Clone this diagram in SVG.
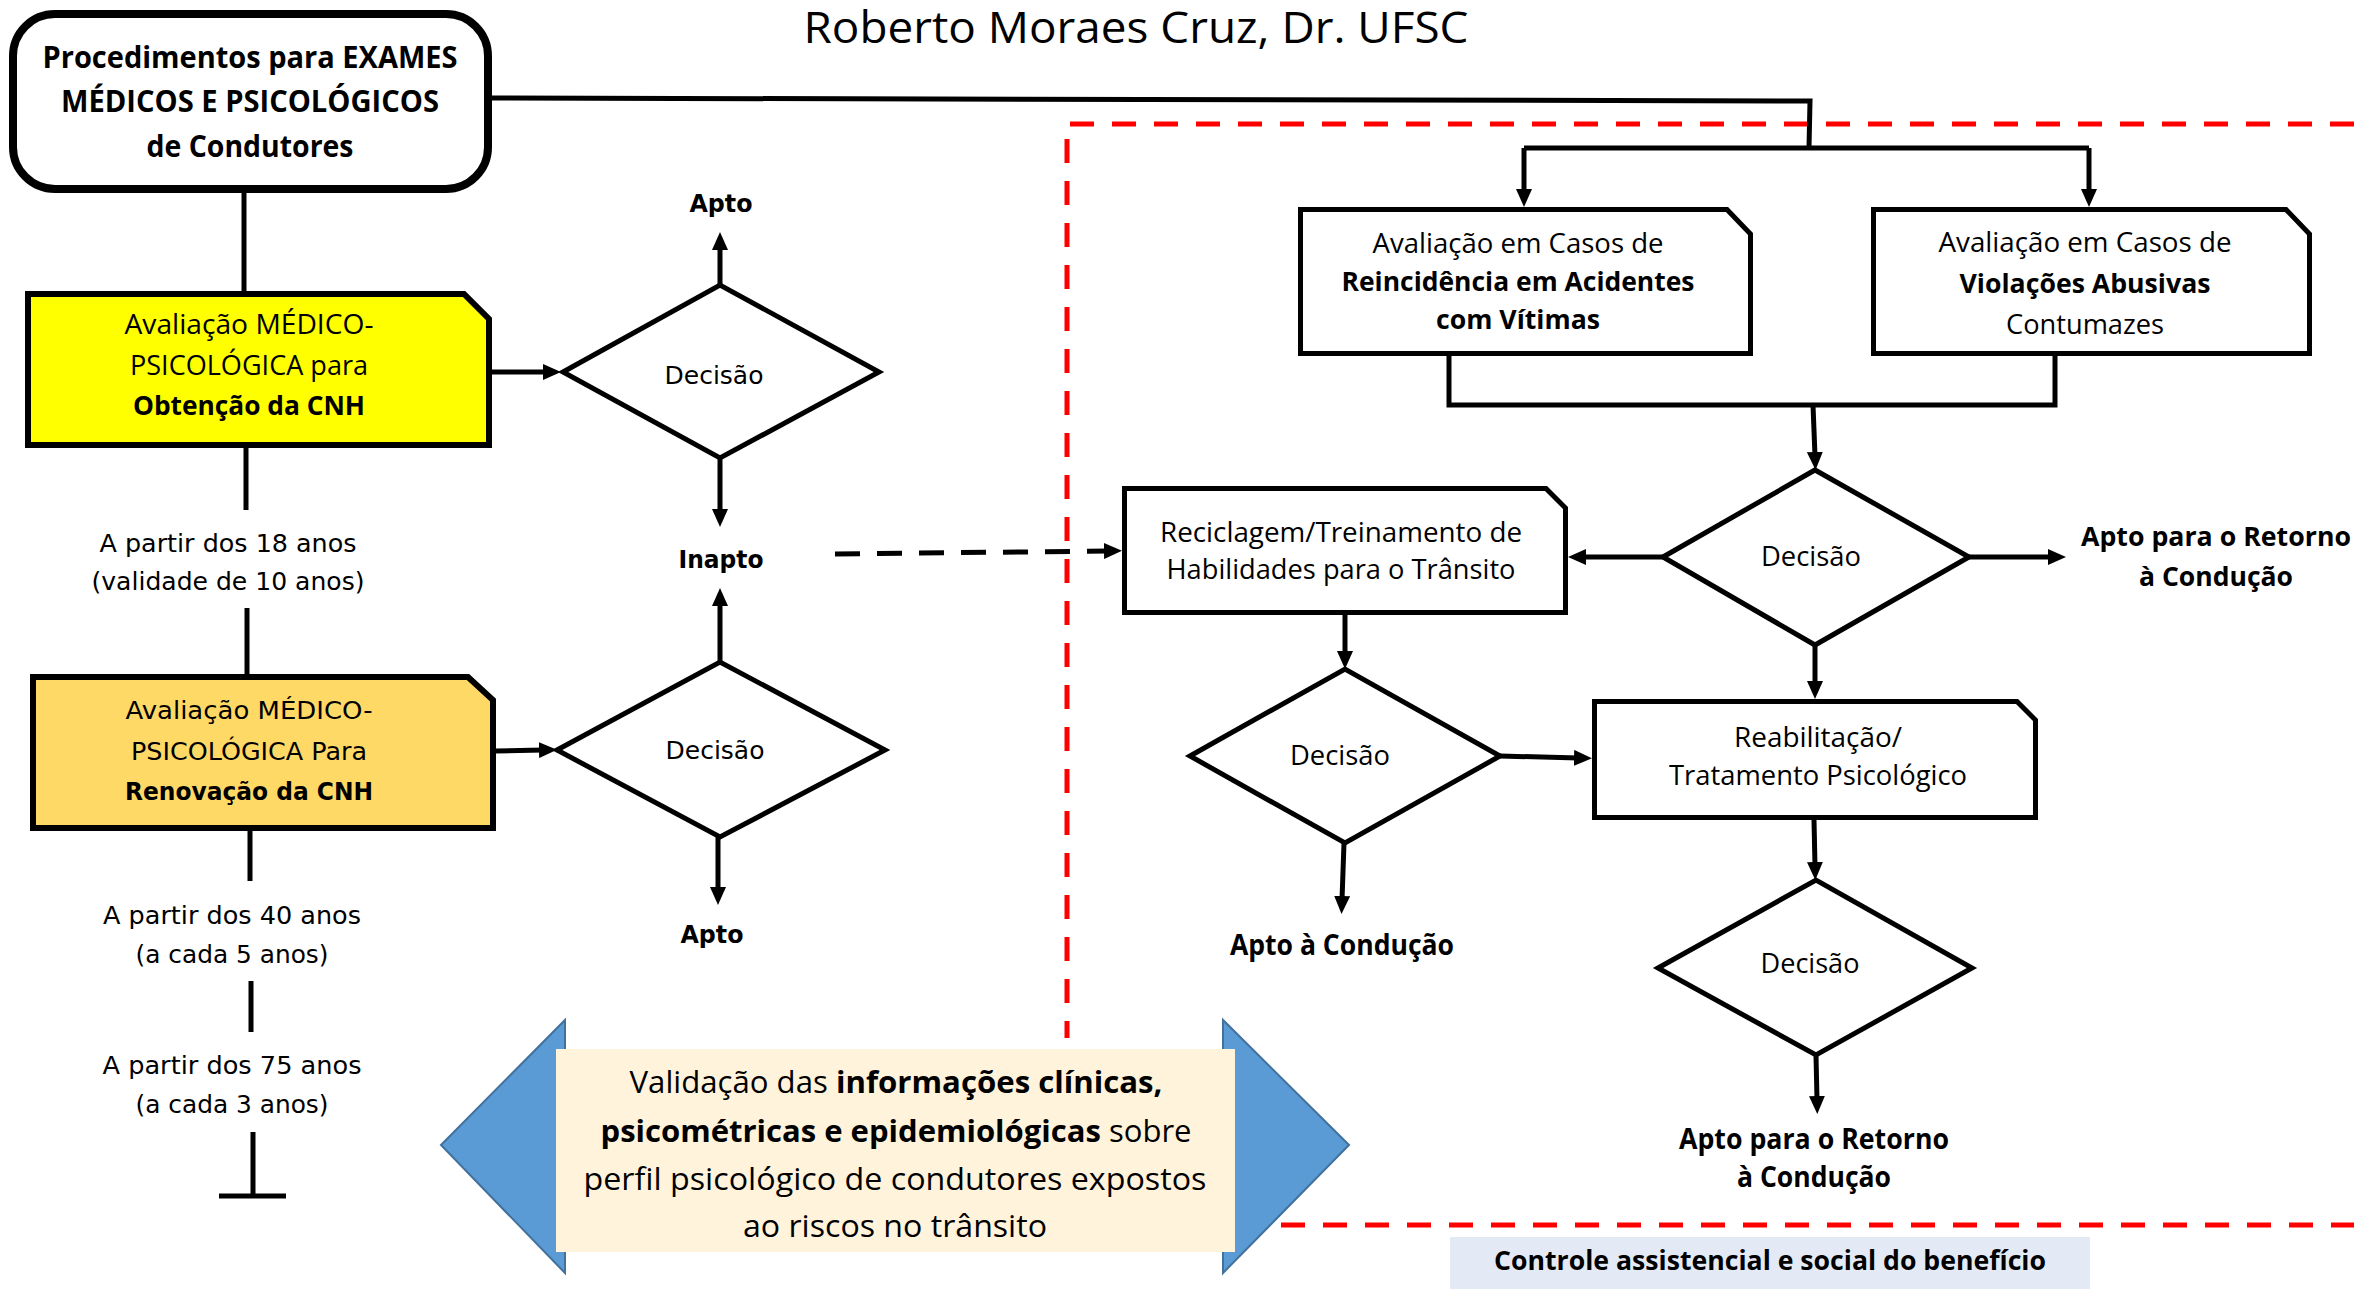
<svg xmlns="http://www.w3.org/2000/svg" width="2354" height="1289" viewBox="0 0 2354 1289">
<style>
.box{fill:#fff;stroke:#000;stroke-width:5;stroke-linejoin:miter}
.dia{fill:#fff;stroke:#000;stroke-width:5;stroke-linejoin:miter}
.ln{fill:none;stroke:#000;stroke-width:5}
.ar{fill:none;stroke:#000;stroke-width:5;marker-end:url(#ah)}
.red{fill:none;stroke:#f00;stroke-width:5;stroke-dasharray:24 18}
.tri{fill:#5b9bd5;stroke:#41719c;stroke-width:2}
.os{font-family:"Open Sans","Liberation Sans",sans-serif;fill:#000;text-anchor:middle}
.dv{font-family:"DejaVu Sans","Liberation Sans",sans-serif;fill:#000;text-anchor:middle}
.b{font-weight:bold}
</style>
<defs>
<marker id="ah" markerUnits="userSpaceOnUse" viewBox="0 0 18 16" markerWidth="18" markerHeight="16" refX="4" refY="8" orient="auto">
<path d="M0,0 L18,8 L0,16 Z" fill="#000"/>
</marker>
</defs>

<g id="title"><text class="os" x="1136" y="43" font-size="44" textLength="665" lengthAdjust="spacingAndGlyphs">Roberto Moraes Cruz, Dr. UFSC</text></g>

<g id="regions">
<polyline class="red" points="2354,124 1067,124 1067,1038"/>
<line class="red" x1="1281" y1="1225" x2="2354" y2="1225"/>
</g>

<g id="connectors">
<line class="ln" x1="244" y1="193" x2="244" y2="291"/>
<line class="ln" x1="246" y1="448" x2="246" y2="510"/>
<line class="ln" x1="247" y1="608" x2="247" y2="674"/>
<line class="ln" x1="250" y1="831" x2="250" y2="881"/>
<line class="ln" x1="251" y1="981" x2="251" y2="1032"/>
<line class="ln" x1="253" y1="1132" x2="253" y2="1196"/>
<line class="ln" x1="219" y1="1196" x2="286" y2="1196"/>
<line class="ar" x1="492" y1="372" x2="547" y2="372"/>
<line class="ar" x1="720" y1="285" x2="720" y2="246"/>
<line class="ar" x1="720" y1="458" x2="720" y2="513"/>
<line class="ar" x1="720" y1="662" x2="720" y2="602"/>
<line class="ar" x1="718" y1="837" x2="718" y2="891"/>
<line class="ar" x1="496" y1="751" x2="543" y2="750"/>
<line class="ar" x1="835" y1="554" x2="1108" y2="551" stroke-dasharray="25 17"/>
<polyline class="ln" points="488,98 1810,101 1809,148"/>
<line class="ln" x1="1524" y1="148" x2="2089" y2="148"/>
<line class="ar" x1="1524" y1="148" x2="1524" y2="193"/>
<line class="ar" x1="2089" y1="148" x2="2089" y2="193"/>
<polyline class="ln" points="1449,356 1449,405 2055,405 2055,356"/>
<line class="ar" x1="1813" y1="405" x2="1815" y2="456"/>
<line class="ar" x1="1663" y1="557" x2="1582" y2="557" stroke-width="6"/>
<line class="ar" x1="1969" y1="557" x2="2052" y2="557" stroke-width="6"/>
<line class="ar" x1="1815" y1="645" x2="1815" y2="685"/>
<line class="ar" x1="1345" y1="615" x2="1345" y2="655"/>
<line class="ar" x1="1500" y1="756" x2="1578" y2="758"/>
<line class="ar" x1="1344" y1="843" x2="1342" y2="900"/>
<line class="ar" x1="1814" y1="820" x2="1815" y2="866"/>
<line class="ar" x1="1816" y1="1055" x2="1817" y2="1100"/>
</g>

<g id="n-procedimentos">
<rect x="13" y="14" width="475" height="175" rx="42" fill="#fff" stroke="#000" stroke-width="8"/>
<text class="os b" x="250" y="68" font-size="30" textLength="415" lengthAdjust="spacingAndGlyphs">Procedimentos para EXAMES</text>
<text class="os b" x="250" y="112" font-size="30" textLength="378" lengthAdjust="spacingAndGlyphs">MÉDICOS E PSICOLÓGICOS</text>
<text class="os b" x="250" y="157" font-size="30" textLength="207" lengthAdjust="spacingAndGlyphs">de Condutores</text>
</g>

<g id="n-obtencao">
<path d="M28,294 H464 L489,319 V445 H28 Z" fill="#ffff00" stroke="#000" stroke-width="6"/>
<text class="os" x="249" y="334" font-size="27" textLength="249" lengthAdjust="spacingAndGlyphs">Avaliação MÉDICO-</text>
<text class="os" x="249" y="375" font-size="27" textLength="238" lengthAdjust="spacingAndGlyphs">PSICOLÓGICA para</text>
<text class="os b" x="249" y="415" font-size="27" textLength="232" lengthAdjust="spacingAndGlyphs">Obtenção da CNH</text>
</g>

<g id="l-18">
<text class="dv" x="228" y="552" font-size="25" textLength="257" lengthAdjust="spacingAndGlyphs">A partir dos 18 anos</text>
<text class="dv" x="228" y="590" font-size="25" textLength="273" lengthAdjust="spacingAndGlyphs">(validade de 10 anos)</text>
</g>

<g id="n-renovacao">
<path d="M33,677 H468 L493,700 V828 H33 Z" fill="#ffd966" stroke="#000" stroke-width="6"/>
<text class="dv" x="249" y="719" font-size="24" textLength="247" lengthAdjust="spacingAndGlyphs">Avaliação MÉDICO-</text>
<text class="dv" x="249" y="760" font-size="24" textLength="236" lengthAdjust="spacingAndGlyphs">PSICOLÓGICA Para</text>
<text class="dv b" x="249" y="800" font-size="24" textLength="248" lengthAdjust="spacingAndGlyphs">Renovação da CNH</text>
</g>

<g id="l-40">
<text class="dv" x="232" y="924" font-size="25" textLength="258" lengthAdjust="spacingAndGlyphs">A partir dos 40 anos</text>
<text class="dv" x="232" y="963" font-size="25" textLength="193" lengthAdjust="spacingAndGlyphs">(a cada 5 anos)</text>
</g>
<g id="l-75">
<text class="dv" x="232" y="1074" font-size="25" textLength="259" lengthAdjust="spacingAndGlyphs">A partir dos 75 anos</text>
<text class="dv" x="232" y="1113" font-size="25" textLength="193" lengthAdjust="spacingAndGlyphs">(a cada 3 anos)</text>
</g>

<g id="d1">
<polygon class="dia" points="563,372 720,285 879,372 720,458"/>
<text class="dv" x="714" y="384" font-size="25" textLength="99" lengthAdjust="spacingAndGlyphs">Decisão</text>
</g>
<g id="d2">
<polygon class="dia" points="557,750 720,662 885,750 720,837"/>
<text class="dv" x="715" y="759" font-size="25" textLength="99" lengthAdjust="spacingAndGlyphs">Decisão</text>
</g>
<g id="l-apto1"><text class="dv b" x="721" y="212" font-size="24" textLength="63" lengthAdjust="spacingAndGlyphs">Apto</text></g>
<g id="l-inapto"><text class="dv b" x="721" y="568" font-size="24" textLength="85" lengthAdjust="spacingAndGlyphs">Inapto</text></g>
<g id="l-apto2"><text class="dv b" x="712" y="943" font-size="24" textLength="63" lengthAdjust="spacingAndGlyphs">Apto</text></g>

<g id="n-reincidencia">
<path class="box" d="M1300.5,209.5 H1727 L1750.5,234 V353.5 H1300.5 Z"/>
<text class="os" x="1518" y="253" font-size="27" textLength="291" lengthAdjust="spacingAndGlyphs">Avaliação em Casos de</text>
<text class="os b" x="1518" y="291" font-size="27" textLength="353" lengthAdjust="spacingAndGlyphs">Reincidência em Acidentes</text>
<text class="os b" x="1518" y="329" font-size="27" textLength="164" lengthAdjust="spacingAndGlyphs">com Vítimas</text>
</g>

<g id="n-violacoes">
<path class="box" d="M1873.5,209.5 H2286 L2309.5,234 V353.5 H1873.5 Z"/>
<text class="os" x="2085" y="252" font-size="27" textLength="293" lengthAdjust="spacingAndGlyphs">Avaliação em Casos de</text>
<text class="os b" x="2085" y="293" font-size="27" textLength="251" lengthAdjust="spacingAndGlyphs">Violações Abusivas</text>
<text class="os" x="2085" y="334" font-size="27" textLength="158" lengthAdjust="spacingAndGlyphs">Contumazes</text>
</g>

<g id="d3">
<polygon class="dia" points="1663,557 1815,470 1969,557 1815,645"/>
<text class="os" x="1811" y="566" font-size="27" textLength="100" lengthAdjust="spacingAndGlyphs">Decisão</text>
</g>
<g id="l-retorno1">
<text class="os b" x="2216" y="546" font-size="27" textLength="270" lengthAdjust="spacingAndGlyphs">Apto para o Retorno</text>
<text class="os b" x="2216" y="586" font-size="27" textLength="154" lengthAdjust="spacingAndGlyphs">à Condução</text>
</g>

<g id="n-reciclagem">
<path class="box" d="M1124.5,488.5 H1546 L1565.5,508 V612.5 H1124.5 Z"/>
<text class="os" x="1341" y="542" font-size="27" textLength="362" lengthAdjust="spacingAndGlyphs">Reciclagem/Treinamento de</text>
<text class="os" x="1341" y="579" font-size="27" textLength="349" lengthAdjust="spacingAndGlyphs">Habilidades para o Trânsito</text>
</g>

<g id="d4">
<polygon class="dia" points="1190,756 1345,669 1500,756 1345,843"/>
<text class="os" x="1340" y="765" font-size="27" textLength="100" lengthAdjust="spacingAndGlyphs">Decisão</text>
</g>
<g id="l-conducao"><text class="os b" x="1342" y="955" font-size="28" textLength="224" lengthAdjust="spacingAndGlyphs">Apto à Condução</text></g>

<g id="n-reabilitacao">
<path class="box" d="M1594.5,701.5 H2017 L2035.5,720 V817.5 H1594.5 Z"/>
<text class="os" x="1818" y="747" font-size="27" textLength="168" lengthAdjust="spacingAndGlyphs">Reabilitação/</text>
<text class="os" x="1818" y="785" font-size="27" textLength="298" lengthAdjust="spacingAndGlyphs">Tratamento Psicológico</text>
</g>

<g id="d5">
<polygon class="dia" points="1658,968 1816,880 1972,968 1816,1055"/>
<text class="os" x="1810" y="973" font-size="27" textLength="99" lengthAdjust="spacingAndGlyphs">Decisão</text>
</g>
<g id="l-retorno2">
<text class="os b" x="1814" y="1149" font-size="28" textLength="270" lengthAdjust="spacingAndGlyphs">Apto para o Retorno</text>
<text class="os b" x="1814" y="1187" font-size="28" textLength="154" lengthAdjust="spacingAndGlyphs">à Condução</text>
</g>

<g id="n-validacao">
<polygon class="tri" points="441,1145 565,1020 565,1273"/>
<polygon class="tri" points="1349,1145 1223,1020 1223,1273"/>
<rect x="556" y="1049" width="679" height="203" fill="#fff3dc"/>
<text class="os" x="896" y="1093" font-size="31" textLength="533" lengthAdjust="spacingAndGlyphs">Validação das <tspan font-weight="bold">informações clínicas,</tspan></text>
<text class="os" x="896" y="1142" font-size="31" textLength="591" lengthAdjust="spacingAndGlyphs"><tspan font-weight="bold">psicométricas e epidemiológicas</tspan> sobre</text>
<text class="os" x="895" y="1190" font-size="31" textLength="623" lengthAdjust="spacingAndGlyphs">perfil psicológico de condutores expostos</text>
<text class="os" x="895" y="1237" font-size="31" textLength="304" lengthAdjust="spacingAndGlyphs">ao riscos no trânsito</text>
</g>

<g id="n-controle">
<rect x="1450" y="1237" width="640" height="52" fill="#e3eaf5"/>
<text class="os b" x="1770" y="1270" font-size="26" textLength="552" lengthAdjust="spacingAndGlyphs">Controle assistencial e social do benefício</text>
</g>
</svg>
